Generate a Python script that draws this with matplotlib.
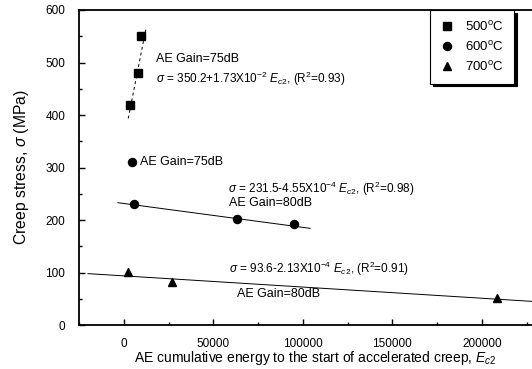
import matplotlib
matplotlib.use("Agg")
from matplotlib import pyplot as plt
import numpy as np

plt.rcParams['font.family'] = ['Liberation Sans', 'DejaVu Sans']
plt.rcParams['mathtext.fontset'] = 'custom'
plt.rcParams['mathtext.rm'] = 'Liberation Sans'
plt.rcParams['mathtext.it'] = 'Liberation Sans:italic'

# AE cumulative energy (E_c2) vs creep stress for each temperature
e_500 = [3300, 8200, 9900]
s_500 = [420, 480, 550]
e_600 = [4400, 5500, 63000, 95300]
s_600 = [310, 230, 202, 192]
e_700 = [2200, 26800, 208600]
s_700 = [101, 82, 51]

# linear fits: sigma = a + b * E
fit_500 = (350.2, 1.73e-2)
fit_600 = (231.5, -4.55e-4)
fit_700 = (93.6, -2.13e-4)

fig = plt.figure(figsize=(5.32, 3.69), dpi=100)
ax = fig.add_axes([0.1485, 0.1192, 0.8515, 0.8537])

ax.plot(e_500, s_500, 's', color='black', ms=5.2, label='500$^\\mathrm{o}$C')
ax.plot(e_600, s_600, 'o', color='black', ms=5.8, label='600$^\\mathrm{o}$C')
ax.plot(e_700, s_700, '^', color='black', ms=5.8, label='700$^\\mathrm{o}$C')

x1 = np.array([2500, 12500])
ax.plot(x1, fit_500[0] + fit_500[1] * x1, '--', color='black', lw=0.7, dashes=(3, 3))
x2 = np.array([-3300, 104000])
ax.plot(x2, fit_600[0] + fit_600[1] * x2, '-', color='black', lw=0.7)
x3 = np.array([-20000, 230000])
ax.plot(x3, fit_700[0] + fit_700[1] * x3, '-', color='black', lw=0.7)

fs = 8.5
fg = 9
ax.text(18000, 501, 'AE Gain=75dB', fontsize=fg)
ax.text(18000, 461, r'$\sigma$ = 350.2+1.73X10$^{-2}$ $E_{c2}$, (R$^2$=0.93)', fontsize=fs)
ax.text(9300, 310, 'AE Gain=75dB', fontsize=fg, va='center')
ax.text(58000, 251, r'$\sigma$ = 231.5-4.55X10$^{-4}$ $E_{c2}$, (R$^2$=0.98)', fontsize=fs)
ax.text(59000, 227, 'AE Gain=80dB', fontsize=fg)
ax.text(58600, 99, r'$\sigma$ = 93.6-2.13X10$^{-4}$ $E_{c2}$, (R$^2$=0.91)', fontsize=fs)
ax.text(63500, 53, 'AE Gain=80dB', fontsize=fg)

ax.set_xlim(-20000, 228000)
ax.set_ylim(0, 600)
ax.set_xticks([0, 50000, 100000, 150000, 200000])
ax.set_yticks([0, 100, 200, 300, 400, 500, 600])
ax.set_xticks(np.arange(-25000, 230000, 25000), minor=True)
ax.set_yticks(np.arange(50, 600, 100), minor=True)
ax.tick_params(which='both', direction='in', labelsize=8.5, width=1)
ax.tick_params(which='major', length=4)
ax.tick_params(which='minor', length=2.5)
ax.tick_params(axis='x', pad=9)
ax.tick_params(axis='y', pad=10)
for sp in ax.spines.values():
    sp.set_linewidth(1.3)
ax.spines['right'].set_visible(False)

ax.set_ylabel(r'Creep stress, $\sigma$ (MPa)', fontsize=11.3, labelpad=10)
ax.set_xlabel(r'AE cumulative energy to the start of accelerated creep, $E_{c2}$', fontsize=10)
ax.xaxis.set_label_coords(0.522, -0.075)

leg = ax.legend(loc='upper right', bbox_to_anchor=(0.96, 1.0), borderaxespad=0,
                fancybox=False, edgecolor='black', framealpha=1, fontsize=9.5,
                handlelength=1.0, handletextpad=0.9, labelspacing=0.45, borderpad=0.75,
                shadow={'color': 'black', 'alpha': 1})
leg.get_frame().set_linewidth(0.8)

fig.savefig('out.png', dpi=100)
